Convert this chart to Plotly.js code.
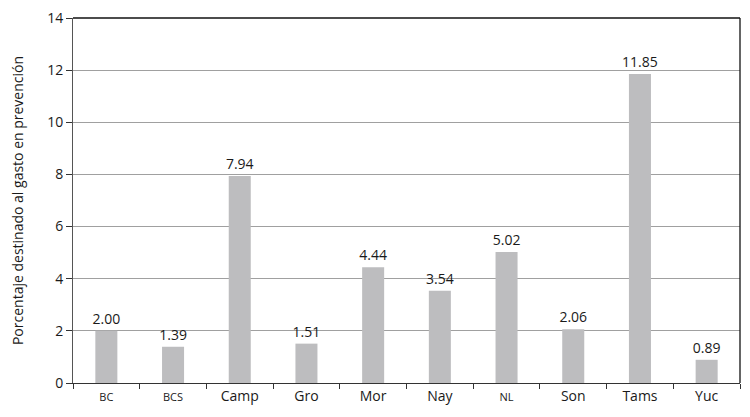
<!DOCTYPE html>
<html>
<head>
<meta charset="utf-8">
<script src="https://cdn.plot.ly/plotly-3.0.1.min.js"></script>
<style>html,body{margin:0;padding:0;background:#fff;}#chart{width:750px;height:417px;}</style>
</head>
<body>
<div id="chart"></div>
<script>
const categories = ["BC", "BCS", "Camp", "Gro", "Mor", "Nay", "NL", "Son", "Tams", "Yuc"];
const values = [2.00, 1.39, 7.94, 1.51, 4.44, 3.54, 5.02, 2.06, 11.85, 0.89];
const smallLabels = ["BC", "BCS", "NL"];
const tickLabels = categories.map(c => smallLabels.includes(c) ? '<span style="font-size:11px">' + c + '</span>' : c);
const yTicks = [0, 2, 4, 6, 8, 10, 12, 14];
const yTitle = "Porcentaje destinado al gasto en prevención";

const trace = {
  type: "bar",
  x: categories,
  y: values,
  width: 0.33,
  marker: {color: "#bdbdbf"},
  texttemplate: "%{y:.2f}",
  textposition: "outside",
  constraintext: "none",
  cliponaxis: false,
  textfont: {family: "Open Sans, sans-serif", size: 14, color: "#1a1a1a"},
  hoverinfo: "none"
};

const layout = {
  width: 750, height: 417,
  margin: {l: 73, r: 10, t: 18, b: 34},
  paper_bgcolor: "#fff", plot_bgcolor: "#fff",
  font: {family: "Open Sans, sans-serif", color: "#1a1a1a"},
  showlegend: false,
  xaxis: {
    type: "category",
    tickvals: categories,
    ticktext: tickLabels,
    tickson: "boundaries",
    ticks: "outside", ticklen: 5, tickcolor: "#333", tickwidth: 1,
    showline: true, linecolor: "#333", linewidth: 1,
    showgrid: false,
    tickfont: {size: 14, color: "#1a1a1a"},
    fixedrange: true
  },
  yaxis: {
    range: [0, 14],
    tickvals: yTicks,
    ticks: "outside", ticklen: 6, tickcolor: "#333",
    showline: true, linecolor: "#555", linewidth: 1,
    showgrid: true, gridcolor: "#a0a0a0", gridwidth: 1,
    tickfont: {size: 14, color: "#1a1a1a"},
    title: {text: yTitle, font: {size: 14, color: "#1a1a1a"}, standoff: 20},
    zeroline: false,
    fixedrange: true
  },
  shapes: [
    {type: "line", xref: "paper", yref: "paper", x0: 0, x1: 1, y0: 1, y1: 1, line: {color: "#111", width: 1.3}},
    {type: "line", xref: "paper", yref: "paper", x0: 1, x1: 1, y0: 0, y1: 1, line: {color: "#111", width: 1.3}}
  ]
};

Plotly.newPlot("chart", [trace], layout, {staticPlot: true, displayModeBar: false});
</script>
</body>
</html>
